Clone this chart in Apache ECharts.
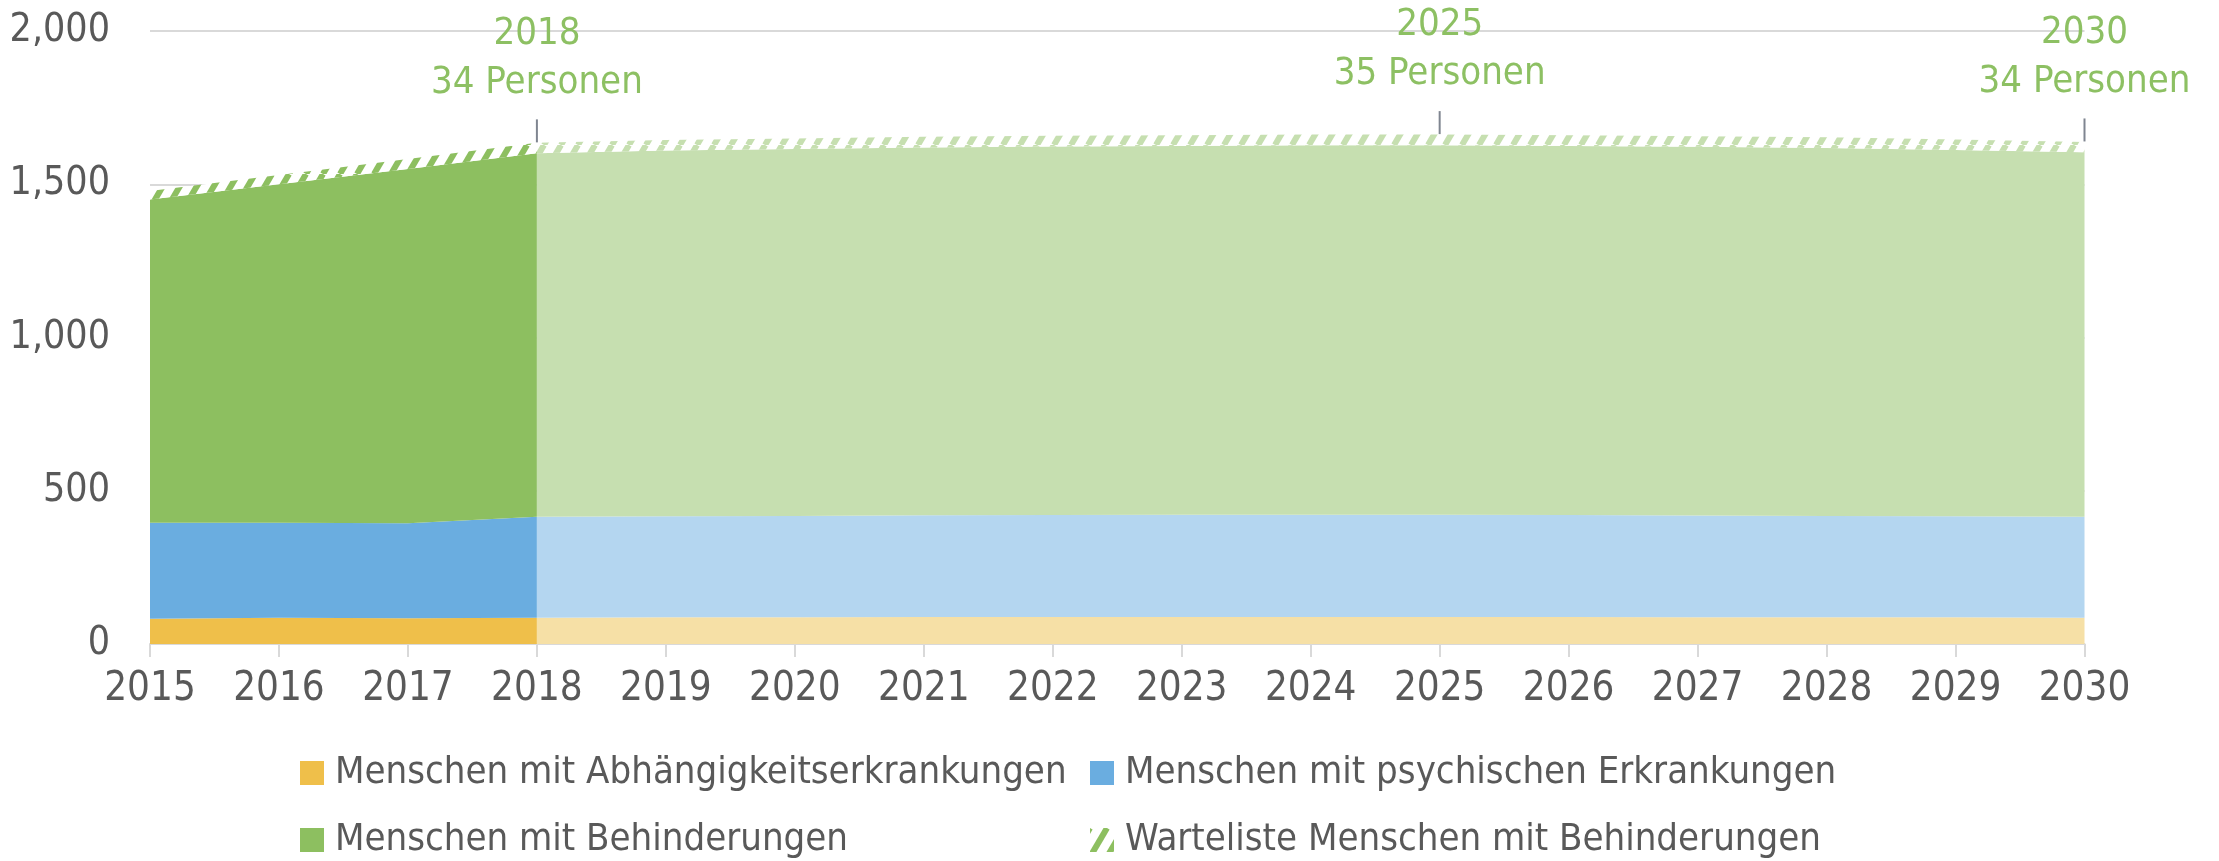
<!DOCTYPE html>
<html>
<head>
<meta charset="utf-8">
<script src="https://cdn.jsdelivr.net/npm/echarts@6/dist/echarts.min.js"></script>
<style>
  html, body { margin: 0; padding: 0; background: #fff; }
  #chart { width: 2219px; height: 861px; }
</style>
</head>
<body>
<div id="chart"></div>
<script>
// Jahre 2015–2018 Ist-Werte, 2018–2030 Prognose
const years = ['2015','2016','2017','2018','2019','2020','2021','2022','2023','2024','2025','2026','2027','2028','2029','2030'];
const abhaengigkeit = [82, 86, 84, 86, 87, 87, 88, 88, 88, 88, 88, 88, 87, 87, 87, 86];
const psychisch     = [314, 310, 310, 329, 330, 331, 332, 333, 334, 334, 334, 333, 332, 331, 330, 329];
const behinderung   = [1054, 1104, 1156, 1186, 1193, 1197, 1200, 1202, 1203, 1205, 1205, 1204, 1203, 1200, 1195, 1189];
const warteliste    = [28, 30, 32, 34, 34, 34, 35, 35, 35, 35, 35, 35, 35, 35, 34, 34];
const lastActual = 3;                 // index of 2018
const annotated = ['2018', '2025', '2030'];
const yTicks = [0, 500, 1000, 1500, 2000];

const names = {
  abh: 'Menschen mit Abhängigkeitserkrankungen',
  psy: 'Menschen mit psychischen Erkrankungen',
  beh: 'Menschen mit Behinderungen',
  wl:  'Warteliste Menschen mit Behinderungen'
};
const colors = {
  abh: ['#EFBF4A', '#F6E0A6'],
  psy: ['#6AADE0', '#B4D6F0'],
  beh: ['#8DBF60', '#C6DFB0']
};
const FONT = '"DejaVu Sans Condensed", "DejaVu Sans", sans-serif';
const TXT = '#595959';
const GREEN_TXT = '#8DC063';

// steep diagonal hatch used for the waiting list band
function stripes(color) {
  const w = 17, h = 29;
  const c = document.createElement('canvas');
  c.width = w; c.height = h;
  const g = c.getContext('2d');
  g.fillStyle = '#ffffff';
  g.fillRect(0, 0, w, h);
  g.strokeStyle = color;
  g.lineWidth = 6;
  for (const k of [-w, 0, w]) {
    g.beginPath(); g.moveTo(k, h); g.lineTo(k + w, 0); g.stroke();
  }
  return { image: c, repeat: 'repeat' };
}

function part(arr, actual) {
  return arr.map((v, i) => actual ? (i <= lastActual ? v : null) : (i >= lastActual ? v : null));
}

function areaSeries(name, arr, color, stack, actual) {
  return {
    name: name, type: 'line', stack: stack,
    data: part(arr, actual),
    symbol: 'none', showSymbol: false,
    lineStyle: { width: 0 },
    itemStyle: { color: color },
    areaStyle: { color: color, opacity: 1 },
    emphasis: { disabled: true },
    animation: false
  };
}

const totals = years.map((_, i) => abhaengigkeit[i] + psychisch[i] + behinderung[i] + warteliste[i]);

const markData = annotated.map(y => {
  const i = years.indexOf(y);
  return {
    coord: [i, totals[i]],
    value: warteliste[i],
    label: { formatter: years[i] + '\n' + warteliste[i] + ' Personen' }
  };
});

const stripeDark = stripes('#8DBF60');
const stripeLight = stripes('#C6DFB0');

const series = [
  areaSeries(names.abh, abhaengigkeit, colors.abh[0], 'ist', true),
  areaSeries(names.psy, psychisch, colors.psy[0], 'ist', true),
  areaSeries(names.beh, behinderung, colors.beh[0], 'ist', true),
  areaSeries(names.wl, warteliste, stripeDark, 'ist', true),
  areaSeries(names.abh, abhaengigkeit, colors.abh[1], 'prog', false),
  areaSeries(names.psy, psychisch, colors.psy[1], 'prog', false),
  areaSeries(names.beh, behinderung, colors.beh[1], 'prog', false),
  Object.assign(areaSeries(names.wl, warteliste, stripeLight, 'prog', false), {
    markPoint: {
      symbol: 'rect',
      symbolSize: [2, 23],
      symbolOffset: [0, -12],
      itemStyle: { color: '#7F8590' },
      label: {
        show: true,
        position: 'top',
        distance: 12,
        color: GREEN_TXT,
        fontFamily: FONT,
        fontSize: 38,
        lineHeight: 49,
        align: 'center'
      },
      data: markData,
      animation: false
    }
  })
];

function legendAt(name, left, centerY) {
  return {
    data: [name],
    left: left, top: centerY - 20,
    padding: 0,
    itemWidth: 24, itemHeight: 24,
    icon: 'rect', selectedMode: false,
    textStyle: { color: TXT, fontFamily: FONT, fontSize: 38, lineHeight: 40, padding: [0, 0, 0, 6] }
  };
}

const option = {
  backgroundColor: '#ffffff',
  animation: false,
  grid: { left: 150, right: 134.5, top: 31, bottom: 217, containLabel: false },
  xAxis: {
    type: 'category',
    boundaryGap: false,
    data: years,
    axisLine: { lineStyle: { color: '#D9D9D9', width: 2 } },
    axisTick: { show: true, length: 13, lineStyle: { color: '#D9D9D9', width: 2 } },
    axisLabel: { color: TXT, fontFamily: FONT, fontSize: 40, margin: 26 },
    splitLine: { show: false }
  },
  yAxis: {
    type: 'value',
    min: yTicks[0],
    max: yTicks[yTicks.length - 1],
    interval: yTicks[1] - yTicks[0],
    axisLine: { show: false },
    axisTick: { show: false },
    axisLabel: {
      color: TXT, fontFamily: FONT, fontSize: 39, margin: 40,
      formatter: v => v.toLocaleString('en-US')
    },
    splitLine: { lineStyle: { color: '#D9D9D9', width: 2 } }
  },
  legend: [
    legendAt(names.abh, 300, 773),
    legendAt(names.psy, 1090, 773),
    legendAt(names.beh, 300, 840),
    legendAt(names.wl, 1090, 840)
  ],
  series: series
};

const chart = echarts.init(document.getElementById('chart'), null, { renderer: 'canvas' });
chart.setOption(option);
</script>
</body>
</html>
